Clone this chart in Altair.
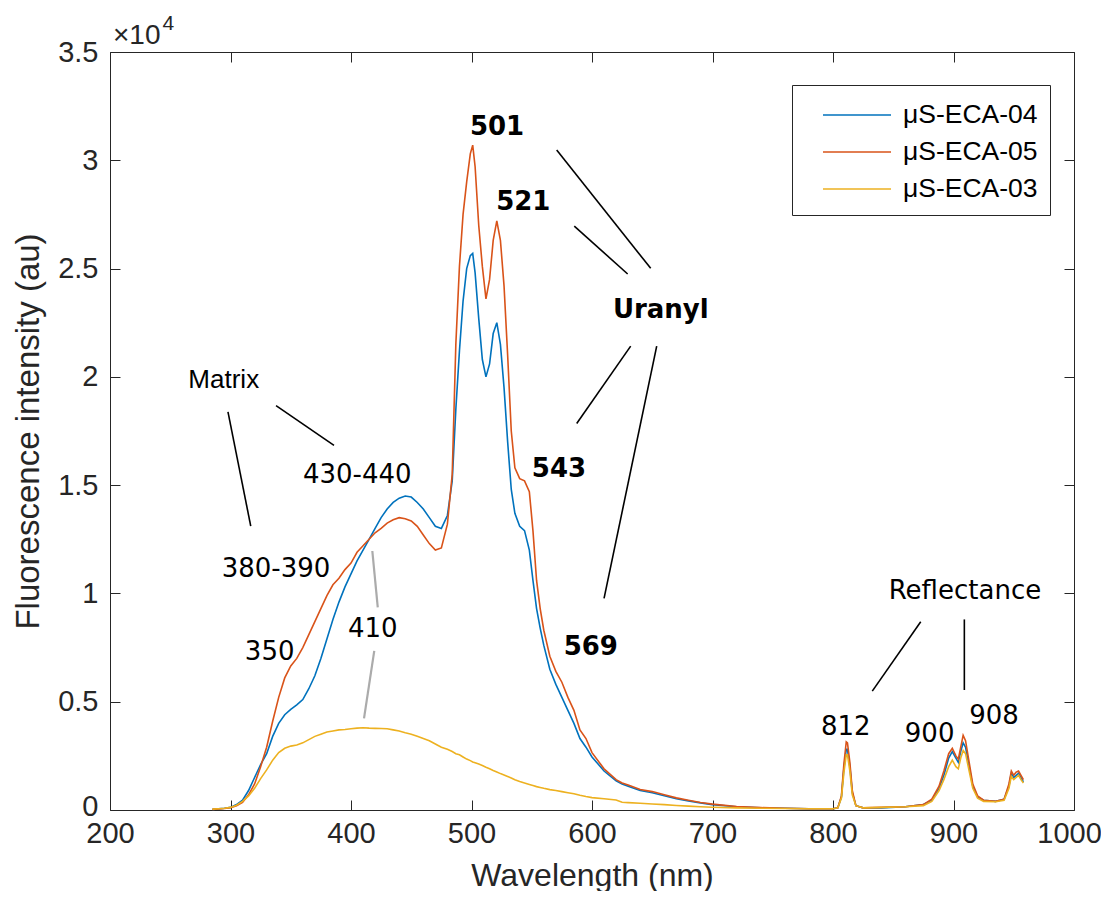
import altair as alt
import pandas as pd

# ---------------- data (intensity in units of 1e4 au) ----------------
wavelength = [285, 290, 295, 300, 305, 310, 315, 320, 325, 330, 335, 340, 345, 350, 355, 360,
              365, 370, 375, 380, 385, 390, 395, 400, 405, 410, 415, 420, 425, 430, 435, 440,
              445, 450, 455, 460, 465, 470, 475, 480, 484, 487, 490, 493, 496, 499, 501, 503,
              506, 509, 512, 515, 518, 521, 524, 527, 530, 533, 536, 540, 544, 548, 551, 554,
              557, 560, 565, 570, 575, 580, 585, 590, 595, 600, 610, 620, 625, 630, 640, 650,
              660, 670, 680, 690, 700, 720, 740, 760, 780, 800, 804, 807, 809, 811, 812, 814,
              816, 819, 825, 840, 860, 875, 882, 888, 892, 896, 899, 902, 904, 906, 908, 910,
              913, 916, 920, 925, 935, 942, 946, 948, 950, 952, 954, 956, 958]

eca04 = [0.003, 0.005, 0.008, 0.012, 0.025, 0.045, 0.09, 0.15, 0.21, 0.26, 0.34, 0.40, 0.44, 0.465, 0.485, 0.51,
         0.56, 0.62, 0.70, 0.79, 0.88, 0.96, 1.03, 1.09, 1.15, 1.20, 1.25, 1.30, 1.35, 1.39, 1.42, 1.44,
         1.45, 1.445, 1.42, 1.39, 1.35, 1.31, 1.30, 1.36, 1.52, 1.85, 2.12, 2.35, 2.50, 2.56, 2.57, 2.48,
         2.27, 2.08, 2.00, 2.06, 2.20, 2.25, 2.15, 1.95, 1.70, 1.48, 1.37, 1.31, 1.29, 1.20, 1.06, 0.93,
         0.84, 0.76, 0.65, 0.58, 0.52, 0.46, 0.40, 0.33, 0.29, 0.245, 0.18, 0.135, 0.12, 0.11, 0.09, 0.08,
         0.066, 0.052, 0.042, 0.033, 0.025, 0.015, 0.010, 0.008, 0.006, 0.006, 0.010, 0.06, 0.19, 0.28, 0.28, 0.20,
         0.08, 0.02, 0.010, 0.010, 0.015, 0.025, 0.045, 0.10, 0.16, 0.24, 0.27, 0.24, 0.22, 0.27, 0.31, 0.29,
         0.20, 0.11, 0.06, 0.045, 0.04, 0.05, 0.11, 0.17, 0.15, 0.16, 0.17, 0.15, 0.13]

eca05 = [0.003, 0.005, 0.007, 0.010, 0.020, 0.035, 0.07, 0.12, 0.20, 0.29, 0.41, 0.52, 0.61, 0.665, 0.70, 0.75,
         0.81, 0.87, 0.93, 0.99, 1.04, 1.07, 1.11, 1.14, 1.19, 1.22, 1.25, 1.28, 1.30, 1.325, 1.34, 1.35,
         1.345, 1.335, 1.31, 1.27, 1.23, 1.20, 1.21, 1.32, 1.55, 2.15, 2.51, 2.75, 2.90, 3.03, 3.07, 2.97,
         2.70, 2.51, 2.36, 2.45, 2.63, 2.72, 2.63, 2.42, 2.10, 1.75, 1.58, 1.53, 1.52, 1.47, 1.29, 1.06,
         0.93, 0.83, 0.71, 0.64, 0.59, 0.52, 0.46, 0.37, 0.33, 0.265, 0.19, 0.14, 0.125, 0.115, 0.095, 0.085,
         0.07, 0.056, 0.045, 0.035, 0.027, 0.016, 0.011, 0.008, 0.006, 0.006, 0.010, 0.065, 0.21, 0.315, 0.31, 0.22,
         0.09, 0.02, 0.010, 0.012, 0.015, 0.025, 0.05, 0.11, 0.18, 0.26, 0.285, 0.25, 0.235, 0.29, 0.345, 0.32,
         0.22, 0.12, 0.065, 0.045, 0.04, 0.05, 0.12, 0.18, 0.16, 0.175, 0.18, 0.16, 0.14]

eca03 = [0.004, 0.006, 0.008, 0.012, 0.022, 0.04, 0.065, 0.10, 0.145, 0.185, 0.23, 0.265, 0.285, 0.295, 0.30, 0.31,
         0.325, 0.34, 0.35, 0.36, 0.365, 0.37, 0.372, 0.375, 0.378, 0.38, 0.378, 0.377, 0.376, 0.375, 0.37, 0.365,
         0.357, 0.35, 0.34, 0.33, 0.32, 0.305, 0.29, 0.28, 0.27, 0.26, 0.255, 0.245, 0.235, 0.228, 0.222, 0.218,
         0.212, 0.205, 0.197, 0.19, 0.182, 0.175, 0.168, 0.162, 0.155, 0.148, 0.14, 0.132, 0.125, 0.118, 0.113, 0.108,
         0.104, 0.10, 0.094, 0.09, 0.085, 0.08, 0.075, 0.068, 0.062, 0.057, 0.052, 0.046, 0.036, 0.034, 0.031, 0.028,
         0.025, 0.021, 0.018, 0.015, 0.013, 0.010, 0.008, 0.007, 0.006, 0.006, 0.010, 0.055, 0.17, 0.255, 0.255, 0.18,
         0.07, 0.02, 0.010, 0.012, 0.015, 0.02, 0.04, 0.09, 0.14, 0.20, 0.23, 0.20, 0.19, 0.24, 0.275, 0.26,
         0.18, 0.10, 0.055, 0.04, 0.038, 0.045, 0.10, 0.155, 0.14, 0.15, 0.16, 0.14, 0.125]

series_names = ["μS-ECA-04", "μS-ECA-05", "μS-ECA-03"]
series_colors = ["#0072BD", "#D95319", "#EDB120"]
series_values = [eca04, eca05, eca03]

x_ticks = [200, 300, 400, 500, 600, 700, 800, 900, 1000]
y_ticks = [0, 5000, 10000, 15000, 20000, 25000, 30000, 35000]

# annotation labels (wavelength, intensity in 1e4 units at text baseline)
plain_labels = ["430-440", "380-390", "350", "410", "Reflectance", "812", "900", "908"]
plain_x = [405.2, 337.8, 332.5, 418.1, 909.5, 810.6, 880.2, 933.6]
plain_y = [1.51, 1.076, 0.6925, 0.799, 0.974, 0.346, 0.314, 0.397]

bold_labels = ["501", "521", "Uranyl", "543", "569"]
bold_x = [521.2, 543.0, 657.1, 572.6, 599.0]
bold_y = [3.116, 2.770, 2.271, 1.537, 0.716]

sans_labels = ["Matrix"]
sans_x = [294.4]
sans_y = [1.948]

# leader lines (black)
lead_x1 = [297.9, 337.8, 570.7, 585.3, 632.1, 653.7, 872.8, 909.0]
lead_y1 = [1.838, 1.867, 3.047, 2.696, 2.142, 2.142, 0.869, 0.880]
lead_x2 = [316.8, 385.9, 648.7, 629.6, 587.3, 610.0, 832.6, 909.0]
lead_y2 = [1.311, 1.684, 2.501, 2.475, 1.785, 0.977, 0.549, 0.554]

# leader lines (grey, 410)
grey_x1 = [417.7, 419.3]
grey_y1 = [1.196, 0.735]
grey_x2 = [422.2, 410.8]
grey_y2 = [0.936, 0.423]

# ---------------- tables ----------------
rows = []
for name, vals in zip(series_names, series_values):
    for w, v in zip(wavelength, vals):
        rows.append({"wavelength": w, "intensity": v * 1e4, "sample": name})
spec_df = pd.DataFrame(rows)

def text_df(labels, xs, ys):
    return pd.DataFrame({"label": labels, "x": xs, "y": [v * 1e4 for v in ys]})

def seg_df(x1, y1, x2, y2):
    return pd.DataFrame({"x": x1, "y": [v * 1e4 for v in y1], "x2": x2, "y2": [v * 1e4 for v in y2]})

xscale = alt.Scale(domain=[200, 1000], nice=False, zero=False)
yscale = alt.Scale(domain=[0, 35000], nice=False)
TXT = "#262626"
AX_FONT = "Liberation Sans"

x_axis = alt.Axis(values=x_ticks, orient="bottom", offset=-10, tickSize=10, domain=False, grid=False,
                  format="d", labelFlush=False, labelOverlap=False,
                  labelOffset={"condition": {"test": "datum.value == 1000", "value": -5}, "value": 0},
                  labelFont=AX_FONT, labelFontSize=29, labelColor=TXT, tickColor=TXT, tickWidth=1,
                  labelPadding=9, title="Wavelength (nm)", titleFont=AX_FONT, titleFontSize=32,
                  titleFontWeight="normal", titleColor=TXT, titlePadding=12)
y_axis = alt.Axis(values=y_ticks, orient="left", offset=-10, tickSize=10, domain=False, grid=False,
                  labelExpr="datum.value / 10000", labelFlush=False, labelOverlap=False,
                  labelOffset={"condition": {"test": "datum.value == 0", "value": -4}, "value": 0},
                  labelFont=AX_FONT, labelFontSize=29, labelColor=TXT,
                  tickColor=TXT, tickWidth=1, labelPadding=12, title="Fluorescence intensity (au)",
                  titleFont=AX_FONT, titleFontSize=33, titleFontWeight="normal", titleColor=TXT,
                  titlePadding=12)
x_top = alt.Axis(values=x_ticks, orient="top", offset=-10, tickSize=10, domain=False, grid=False,
                 labels=False, tickColor=TXT, tickWidth=1, title=None)
y_right = alt.Axis(values=y_ticks, orient="right", offset=-10, tickSize=10, domain=False, grid=False,
                   labels=False, tickColor=TXT, tickWidth=1, title=None)

lines = alt.Chart(spec_df).mark_line(strokeWidth=1.6).encode(
    x=alt.X("wavelength:Q", scale=xscale, axis=x_axis),
    y=alt.Y("intensity:Q", scale=yscale, axis=y_axis),
    color=alt.Color("sample:N", scale=alt.Scale(domain=series_names, range=series_colors),
                    sort=series_names,
                    legend=alt.Legend(title=None, orient="none", legendX=682, legendY=33,
                                      symbolType="M-2,0H2", symbolSize=1156, symbolStrokeWidth=1.6,
                                      labelFont=AX_FONT, labelFontSize=26.5, labelColor="#000000",
                                      padding=12, rowPadding=5, symbolOffset=35, labelOffset=28,
                                      strokeColor=TXT, fillColor="white")),
)

black_leads = alt.Chart(seg_df(lead_x1, lead_y1, lead_x2, lead_y2)).mark_rule(
    color="black", strokeWidth=1.6).encode(
    x=alt.X("x:Q", scale=xscale, axis=x_top), y=alt.Y("y:Q", scale=yscale, axis=y_right),
    x2="x2:Q", y2="y2:Q")

grey_leads = alt.Chart(seg_df(grey_x1, grey_y1, grey_x2, grey_y2)).mark_rule(
    color="#ababab", strokeWidth=2.2).encode(
    x=alt.X("x:Q", scale=xscale, axis=None), y=alt.Y("y:Q", scale=yscale, axis=None),
    x2="x2:Q", y2="y2:Q")

plain_text = alt.Chart(text_df(plain_labels, plain_x, plain_y)).mark_text(
    font="DejaVu Sans", fontSize=26, align="center", baseline="alphabetic", color="black").encode(
    x=alt.X("x:Q", scale=xscale, axis=None), y=alt.Y("y:Q", scale=yscale, axis=None), text="label:N")

bold_text = alt.Chart(text_df(bold_labels, bold_x, bold_y)).mark_text(
    font="DejaVu Sans", fontSize=26, fontWeight="bold", align="center", baseline="alphabetic",
    color="black").encode(
    x=alt.X("x:Q", scale=xscale, axis=None), y=alt.Y("y:Q", scale=yscale, axis=None), text="label:N")

sans_text = alt.Chart(text_df(sans_labels, sans_x, sans_y)).mark_text(
    font=AX_FONT, fontSize=26, align="center", baseline="alphabetic", color="black").encode(
    x=alt.X("x:Q", scale=xscale, axis=None), y=alt.Y("y:Q", scale=yscale, axis=None), text="label:N")

exp_base = alt.Chart(text_df(["×10"], [202.5], [3.537])).mark_text(
    font=AX_FONT, fontSize=28, align="left", baseline="alphabetic", color=TXT).encode(
    x=alt.X("x:Q", scale=xscale, axis=None), y=alt.Y("y:Q", scale=yscale, axis=None), text="label:N")

exp_sup = alt.Chart(text_df(["4"], [243.5], [3.601])).mark_text(
    font=AX_FONT, fontSize=21, align="left", baseline="alphabetic", color=TXT).encode(
    x=alt.X("x:Q", scale=xscale, axis=None), y=alt.Y("y:Q", scale=yscale, axis=None), text="label:N")

chart = alt.layer(
    lines, black_leads, grey_leads, plain_text, bold_text, sans_text, exp_base, exp_sup
).properties(
    width=964, height=758,
    autosize=alt.AutoSizeParams(type="none"),
    padding={"left": 102, "top": 44, "right": 27, "bottom": 81},
    background="white",
).configure_view(
    stroke=TXT, strokeWidth=1
)

chart.save("out.html", embed_options={"renderer": "svg", "actions": False})
